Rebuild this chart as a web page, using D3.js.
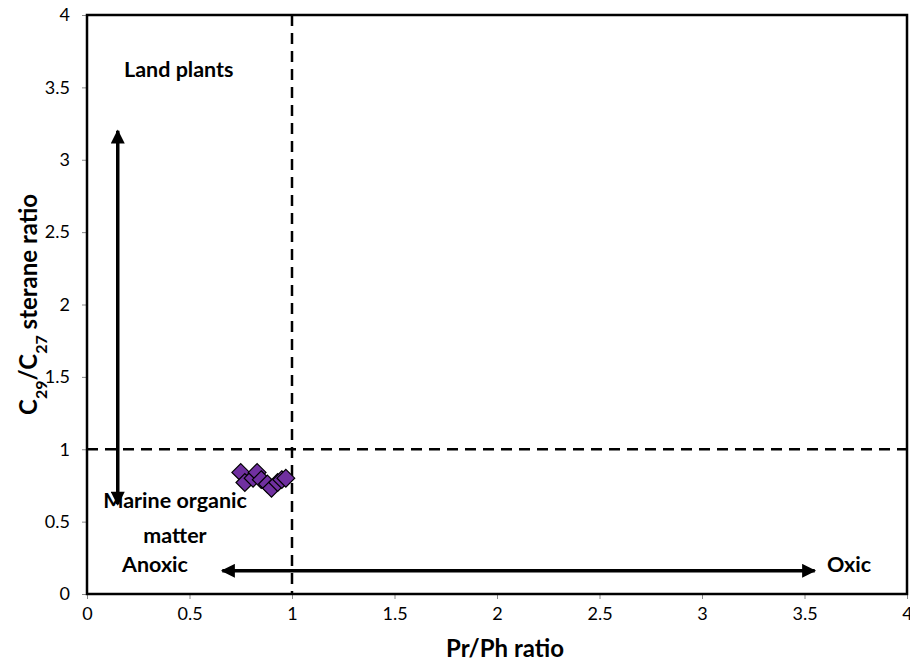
<!DOCTYPE html>
<html>
<head>
<meta charset="utf-8">
<script src="https://cdn.jsdelivr.net/npm/d3@7"></script>
<style>
  body { margin: 0; background: #fff; }
  text { font-family: Lato, "Open Sans", sans-serif; fill: #000; }
  .label { font-size: 21.5px; font-weight: bold; }
  .title { font-size: 24px; font-weight: bold; }
</style>
</head>
<body>
<div id="chart"></div>
<script>
// Pr/Ph ratio vs C29/C27 sterane ratio
const prPh   = [0.75, 0.77, 0.81, 0.83, 0.85, 0.88, 0.90, 0.93, 0.95, 0.97];
const sterane = [0.84, 0.77, 0.80, 0.84, 0.79, 0.76, 0.73, 0.77, 0.79, 0.80];
const xTicks = [0, 0.5, 1, 1.5, 2, 2.5, 3, 3.5, 4];
const yTicks = [0, 0.5, 1, 1.5, 2, 2.5, 3, 3.5, 4];

const width = 910, height = 662;
const margin = {top: 15, left: 87, right: 3, bottom: 68};

const svg = d3.select("#chart")
    .append("svg")
    .attr("width", width)
    .attr("height", height);

const xScale = d3.scaleLinear()
    .domain([0, 4])
    .range([margin.left, width - margin.right]);

const yScale = d3.scaleLinear()
    .domain([0, 4])
    .range([height - margin.bottom, margin.top]);

const fmt = d => String(d);

// arrow heads
const defs = svg.append("defs");
defs.append("marker")
    .attr("id", "head")
    .attr("viewBox", "0 0 10 10")
    .attr("refX", 9).attr("refY", 5)
    .attr("markerWidth", 4.5).attr("markerHeight", 4)
    .attr("markerUnits", "strokeWidth")
    .attr("orient", "auto-start-reverse")
    .append("path")
    .attr("d", "M0,0 L10,5 L0,10 z")
    .attr("fill", "#000");

// axes
const xAxis = svg.append("g")
    .attr("transform", `translate(0,${yScale(0)})`)
    .call(d3.axisBottom(xScale).tickValues(xTicks).tickFormat(fmt).tickSize(5).tickPadding(8));

const yAxis = svg.append("g")
    .attr("transform", `translate(${xScale(0)},0)`)
    .call(d3.axisLeft(yScale).tickValues(yTicks).tickFormat(fmt).tickSize(5).tickPadding(12));

[xAxis, yAxis].forEach(a => {
    a.select(".domain").remove();
    a.attr("font-size", null).attr("font-family", null);
    a.selectAll(".tick line").attr("stroke", "#888");
    a.selectAll(".tick text").attr("font-size", "18px").attr("fill", "#111");
});

// frame
svg.append("rect")
    .attr("x", xScale(0))
    .attr("y", yScale(4))
    .attr("width", xScale(4) - xScale(0))
    .attr("height", yScale(0) - yScale(4))
    .attr("fill", "none")
    .attr("stroke", "#000")
    .attr("stroke-width", 2.5);

// dashed reference lines at 1
svg.append("line")
    .attr("x1", xScale(1)).attr("x2", xScale(1))
    .attr("y1", yScale(4)).attr("y2", yScale(0))
    .attr("stroke", "#000").attr("stroke-width", 2.5)
    .attr("stroke-dasharray", "11,7");

svg.append("line")
    .attr("x1", xScale(0)).attr("x2", xScale(4))
    .attr("y1", yScale(1)).attr("y2", yScale(1))
    .attr("stroke", "#000").attr("stroke-width", 2.5)
    .attr("stroke-dasharray", "11,7");

// arrows
svg.append("line")
    .attr("x1", xScale(0.15)).attr("x2", xScale(0.15))
    .attr("y1", yScale(3.2)).attr("y2", yScale(0.62))
    .attr("stroke", "#000").attr("stroke-width", 3.5)
    .attr("marker-start", "url(#head)")
    .attr("marker-end", "url(#head)");

svg.append("line")
    .attr("x1", xScale(0.66)).attr("x2", xScale(3.55))
    .attr("y1", yScale(0.16)).attr("y2", yScale(0.16))
    .attr("stroke", "#000").attr("stroke-width", 3.5)
    .attr("marker-start", "url(#head)")
    .attr("marker-end", "url(#head)");

// data points
const diamond = d3.symbol().type(d3.symbolDiamond2).size(200);
svg.selectAll(".pt")
    .data(prPh.map((x, i) => [x, sterane[i]]))
    .join("path")
    .attr("class", "pt")
    .attr("transform", d => `translate(${xScale(d[0])},${yScale(d[1])})`)
    .attr("d", diamond)
    .attr("fill", "#7030A0")
    .attr("stroke", "#000")
    .attr("stroke-width", 1.2);

// annotations
svg.append("text").attr("class", "label")
    .attr("x", 124).attr("y", 77).text("Land plants");
svg.append("text").attr("class", "label")
    .attr("x", 175).attr("y", 508).attr("text-anchor", "middle").text("Marine organic");
svg.append("text").attr("class", "label")
    .attr("x", 175).attr("y", 543).attr("text-anchor", "middle").text("matter");
svg.append("text").attr("class", "label")
    .attr("x", 122).attr("y", 572).text("Anoxic");
svg.append("text").attr("class", "label")
    .attr("x", 827).attr("y", 572).text("Oxic");

// axis titles
svg.append("text").attr("class", "title")
    .attr("x", 505)
    .attr("y", 657)
    .attr("text-anchor", "middle")
    .text("Pr/Ph ratio");

const yt = svg.append("text").attr("class", "title")
    .attr("transform", `translate(37,${(yScale(0) + yScale(4)) / 2}) rotate(-90)`)
    .attr("text-anchor", "middle");
yt.append("tspan").text("C");
yt.append("tspan").attr("baseline-shift", "sub").attr("font-size", "16px").text("29");
yt.append("tspan").text("/C");
yt.append("tspan").attr("baseline-shift", "sub").attr("font-size", "16px").text("27");
yt.append("tspan").text(" sterane ratio");
</script>
</body>
</html>
